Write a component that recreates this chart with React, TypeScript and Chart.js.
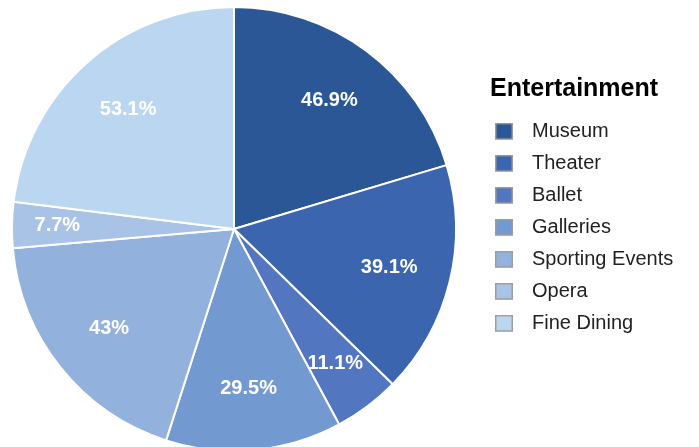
import React, { useEffect, useRef } from 'react';
import { Chart, registerables } from 'chart.js';

Chart.register(...registerables);

const categories = ['Museum', 'Theater', 'Ballet', 'Galleries', 'Sporting Events', 'Opera', 'Fine Dining'];
const values = [46.9, 39.1, 11.1, 29.5, 43, 7.7, 53.1];
const sliceColors = ['#2b5797', '#3b65ae', '#5276bf', '#729ad0', '#92b1dd', '#a9c3e7', '#bbd6f0'];
const legendTitle = 'Entertainment';

const PAGE_W = 699;
const OFF_X = 22;
const CANVAS_W = PAGE_W + OFF_X;
const CANVAS_H = 458;
const FONT = "'Liberation Sans', Arial, Helvetica, sans-serif";
const LEGEND_FONT_SIZE = 20;
const LEGEND_PAD = 12;
const BOX_SLOT = 20;
const LEGEND_LEFT_PAGE = 490;

function makeSwatch(color: string): HTMLCanvasElement {
  const c = document.createElement('canvas');
  c.width = 34;
  c.height = 18;
  const ctx = c.getContext('2d')!;
  ctx.fillStyle = color;
  ctx.fillRect(0, 0, 18, 17);
  ctx.strokeStyle = '#9d9d9d';
  ctx.lineWidth = 1.5;
  ctx.strokeRect(0.75, 0.75, 16.5, 15.5);
  return c;
}

const labelPlugin = {
  id: 'sliceLabels',
  afterDatasetsDraw(chart: any) {
    const ctx = chart.ctx;
    const meta = chart.getDatasetMeta(0);
    ctx.save();
    ctx.font = `bold 20px ${FONT}`;
    ctx.fillStyle = '#ffffff';
    ctx.textAlign = 'center';
    ctx.textBaseline = 'middle';
    meta.data.forEach((arc: any, i: number) => {
      const { x, y, startAngle, endAngle, outerRadius } = arc.getProps(
        ['x', 'y', 'startAngle', 'endAngle', 'outerRadius'],
        true
      );
      const span = endAngle - startAngle;
      const mid = (startAngle + endAngle) / 2;
      const f = 0.72 + Math.max(0, 0.4 - span) * 0.4;
      const r = outerRadius * f;
      ctx.fillText(`${values[i]}%`, x + Math.cos(mid) * r, y + Math.sin(mid) * r);
    });
    ctx.restore();
  },
};

export default function App() {
  const canvasRef = useRef<HTMLCanvasElement | null>(null);

  useEffect(() => {
    const canvas = canvasRef.current;
    if (!canvas) return;

    const m = document.createElement('canvas').getContext('2d')!;
    m.font = `normal ${LEGEND_FONT_SIZE}px ${FONT}`;
    const maxText = Math.max(...categories.map((c) => m.measureText(c).width));
    // Chart.js adds 10px to the width of vertical legends
    const legendW = LEGEND_PAD + BOX_SLOT + LEGEND_FONT_SIZE / 2 + maxText + 10;
    const legendLeft = LEGEND_LEFT_PAGE + OFF_X;
    const padRight = Math.max(0, CANVAS_W - legendLeft - legendW);

    const swatches = sliceColors.map(makeSwatch);

    const chart = new Chart(canvas, {
      type: 'pie',
      data: {
        labels: categories,
        datasets: [
          {
            data: values,
            backgroundColor: sliceColors,
            borderColor: '#ffffff',
            borderWidth: 2,
          },
        ],
      },
      options: {
        animation: false,
        responsive: false,
        radius: 222,
        layout: { padding: { left: 0, top: 0, bottom: 0, right: padRight } },
        plugins: {
          tooltip: { enabled: false },
          legend: {
            position: 'right',
            align: 'start',
            title: {
              display: true,
              text: legendTitle,
              position: 'start',
              color: '#000000',
              font: { family: FONT, size: 25, weight: 'bold' },
              padding: { top: 77, bottom: 2.8 },
            },
            labels: {
              usePointStyle: true,
              pointStyleWidth: BOX_SLOT,
              padding: LEGEND_PAD,
              color: '#222222',
              font: { family: FONT, size: LEGEND_FONT_SIZE },
              generateLabels: () =>
                categories.map((c, i) => ({
                  text: c,
                  fillStyle: sliceColors[i],
                  strokeStyle: '#9d9d9d',
                  lineWidth: 1,
                  pointStyle: swatches[i],
                  hidden: false,
                  index: i,
                  fontColor: '#222222',
                })),
            },
          },
        },
      } as any,
      plugins: [labelPlugin],
    });

    return () => chart.destroy();
  }, []);

  return (
    <div
      style={{
        position: 'fixed',
        left: 0,
        top: 0,
        width: PAGE_W,
        height: 447,
        overflow: 'hidden',
        background: '#ffffff',
      }}
    >
      <canvas
        ref={canvasRef}
        width={CANVAS_W}
        height={CANVAS_H}
        style={{ position: 'absolute', left: -OFF_X, top: 0, width: CANVAS_W, height: CANVAS_H }}
      />
    </div>
  );
}
